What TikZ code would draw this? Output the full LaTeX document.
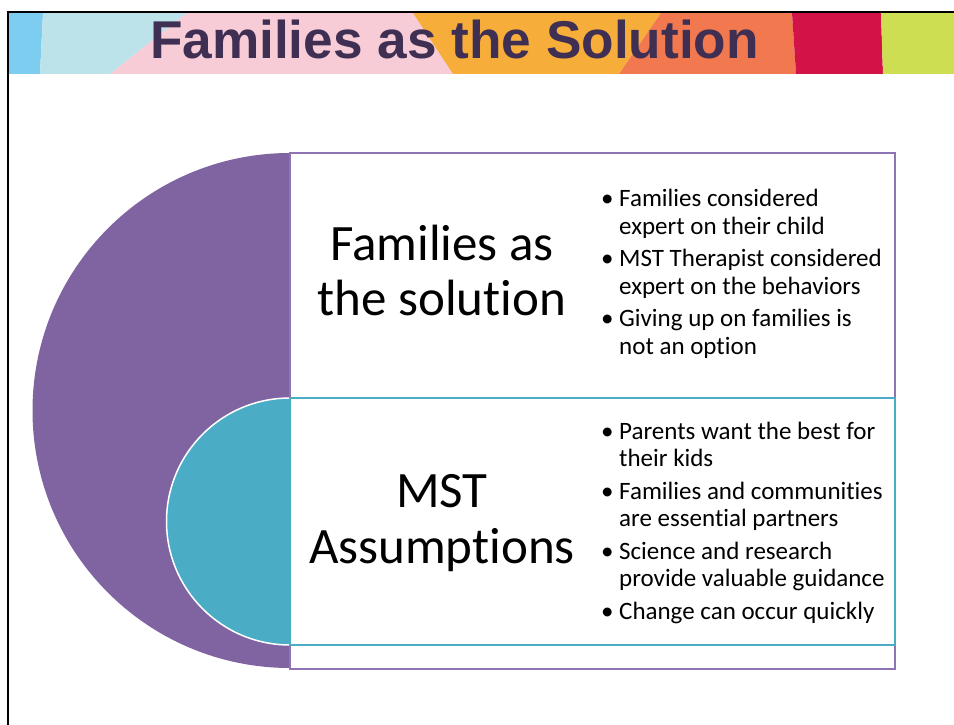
\documentclass[tikz,border=0pt]{standalone}
\usepackage{fontspec}
\setmainfont{Carlito}[Ligatures=NoCommon, RawFeature={-liga}]
\newfontfamily\titlefont{Liberation Sans}
\definecolor{blA}{HTML}{7CCDF0}
\definecolor{cyA}{HTML}{BDE3EA}
\definecolor{pkA}{HTML}{F7CCD6}
\definecolor{orA}{HTML}{F7AD3A}
\definecolor{orB}{HTML}{F1784F}
\definecolor{rdA}{HTML}{D31347}
\definecolor{ygA}{HTML}{CEDE52}
\definecolor{ttl}{HTML}{3F2F52}
\definecolor{mpurple}{HTML}{8064A2}
\definecolor{bpurple}{HTML}{8E74B4}
\definecolor{mteal}{HTML}{4BACC6}
\begin{document}
\begin{tikzpicture}[x=1pt,y=-1pt,
  titlestyle/.style={font=\titlefont\bfseries\fontsize{53.2}{60}\selectfont, text=ttl, anchor=base, inner sep=0},
  bigtxt/.style={font=\fontsize{51}{55}\selectfont, anchor=base, inner sep=0},
  btxt/.style={font=\fontsize{25}{27}\selectfont, anchor=base west, inner sep=0},
]
\useasboundingbox (0,0) rectangle (954,725);
\fill[white] (0,0) rectangle (954,725);
% banner
\fill[blA] (9,13) -- (43,13) -- (40,74) -- (9,74) -- cycle;
\fill[cyA] (43,13) -- (187,13) -- (110,74) -- (40,74) -- cycle;
\fill[pkA] (187,13) -- (413,13) -- (453,74) -- (110,74) -- cycle;
\fill[orA] (413,13) -- (661,13) -- (619,74) -- (453,74) -- cycle;
\fill[orB] (661,13) -- (792,13) -- (796,74) -- (619,74) -- cycle;
\fill[rdA] (792,13) -- (881,13) -- (883,74) -- (796,74) -- cycle;
\fill[ygA] (881,13) -- (954,13) -- (954,74) -- (883,74) -- cycle;
\draw[black, line width=2pt] (8.3,725) -- (8.3,12) -- (954,12);
\node[titlestyle] (title) at (454.5,59) {Families as the Solution};
% half disks
\begin{scope}
  \clip (0,100) rectangle (290,725);
  \fill[mpurple] (290,410.5) circle[radius=257.5];
\end{scope}
\draw[bpurple, line width=2.5pt, fill=white] (290,153) rectangle (895,669);
\begin{scope}
  \clip (0,100) rectangle (290,725);
  \fill[mteal] (290,521.5) circle[radius=123.5];
  \draw[white, line width=1.5pt] (290,521.5) circle[radius=123.5];
\end{scope}
\draw[mteal, line width=2.5pt, fill=white] (290,398) rectangle (895,645);
% big labels
\node[bigtxt] (h1) at (442,260) {Families as};
\node[bigtxt] (h2) at (442,315) {the solution};
\node[bigtxt] (h3) at (442,507) {MST};
\node[bigtxt] (h4) at (442,563) {Assumptions};
% upper bullets
\node[btxt] (u1) at (601,206) {\makebox[18pt][l]{•}Families considered};
\node[btxt] (u2) at (619,234) {expert on their child};
\node[btxt] (u3) at (601,266) {\makebox[18pt][l]{•}MST Therapist considered};
\node[btxt] (u4) at (619,294) {expert on the behaviors};
\node[btxt] (u5) at (601,326) {\makebox[18pt][l]{•}Giving up on families is};
\node[btxt] (u6) at (619,354) {not an option};
% lower bullets
\node[btxt] (l1) at (601,439) {\makebox[18pt][l]{•}Parents want the best for};
\node[btxt] (l2) at (619,466) {their kids};
\node[btxt] (l3) at (601,499) {\makebox[18pt][l]{•}Families and communities};
\node[btxt] (l4) at (619,526) {are essential partners};
\node[btxt] (l5) at (601,559) {\makebox[18pt][l]{•}Science and research};
\node[btxt] (l6) at (619,586) {provide valuable guidance};
\node[btxt] (l7) at (601,619) {\makebox[18pt][l]{•}Change can occur quickly};
\end{tikzpicture}
\end{document}
